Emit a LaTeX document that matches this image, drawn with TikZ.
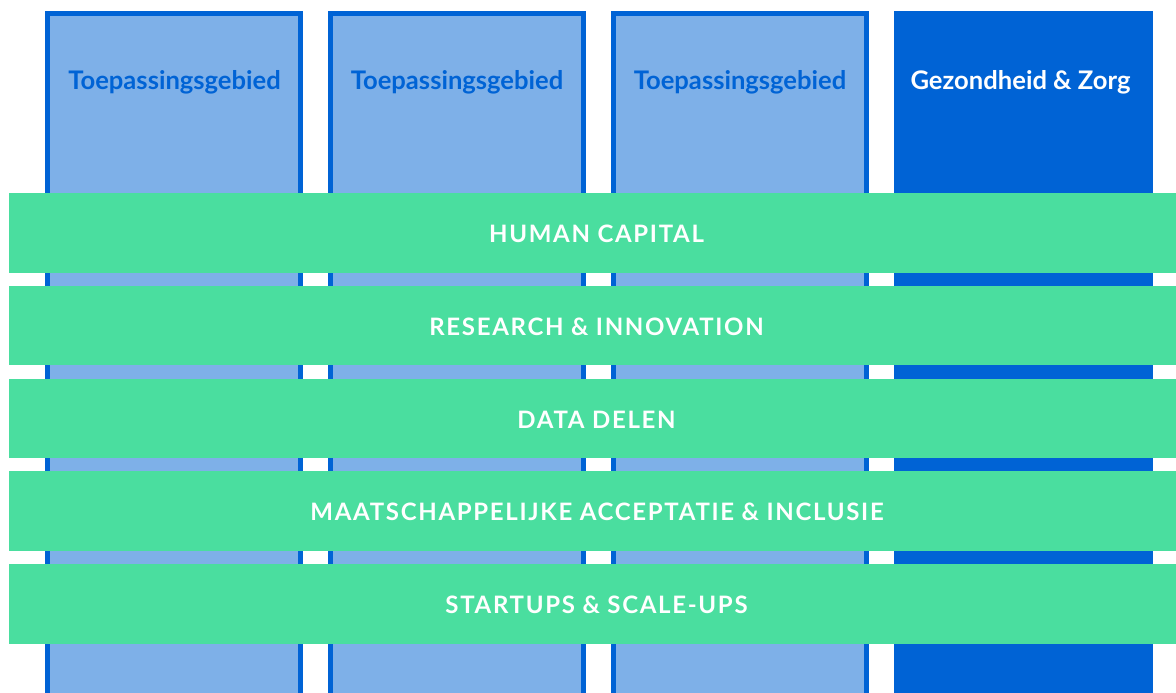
\documentclass[tikz,border=0pt]{standalone}
\usepackage{fontspec}
\setmainfont{Lato}
\newfontfamily\bandfont[LetterSpace=7]{Lato}
\newfontfamily\headfont{Lato}
\definecolor{colblue}{HTML}{0063D5}
\definecolor{lightblue}{HTML}{7EB0E8}
\definecolor{bandgreen}{HTML}{4ADE9F}
\begin{document}
\begin{tikzpicture}[x=0.75pt,y=-0.75pt,
  lightcol/.style={fill=lightblue,draw=colblue,line width=4.1pt},
  darkcol/.style={fill=colblue,draw=colblue,line width=4.1pt},
  bandbox/.style={fill=bandgreen},
  headlbl/.style={font=\headfont\bfseries\fontsize{19.2}{22}\selectfont,anchor=center,inner sep=0pt},
  bandlbl/.style={font=\bandfont\bfseries\fontsize{18}{21}\selectfont,text=white,anchor=center,inner sep=0pt}]
\useasboundingbox (0,0) rectangle (1176,692);
\clip (0,0) rectangle (1176,692);
\fill[white] (0,0) rectangle (1176,692);
% columns
\foreach \i in {0,1,2}{
  \draw[lightcol] ({47.75+283*\i},13.75) rectangle ({300.25+283*\i},720);
}
\draw[darkcol] (896.75,13.75) rectangle (1150.25,720);
\node[headlbl,text=colblue] (h1) at (174.5,82.5) {Toepassingsgebied};
\node[headlbl,text=colblue] (h2) at (457,82.5) {Toepassingsgebied};
\node[headlbl,text=colblue] (h3) at (740,82.5) {Toepassingsgebied};
\node[headlbl,text=white] (h4) at (1020.5,82.5) {Gezondheid \& Zorg};
% bands
\foreach \i in {0,...,4}{
  \fill[bandbox] (9,{193+92.75*\i}) rectangle (1190,{272.5+92.75*\i});
}
\node[bandlbl] (b1) at (596.5,234) {HUMAN CAPITAL};
\node[bandlbl] (b2) at (596.5,327) {RESEARCH \& INNOVATION};
\node[bandlbl] (b3) at (596.5,419.5) {DATA DELEN};
\node[bandlbl] (b4) at (597,512) {MAATSCHAPPELIJKE ACCEPTATIE \& INCLUSIE};
\node[bandlbl] (b5) at (596.5,605) {STARTUPS \& SCALE-UPS};
\end{tikzpicture}
\end{document}
